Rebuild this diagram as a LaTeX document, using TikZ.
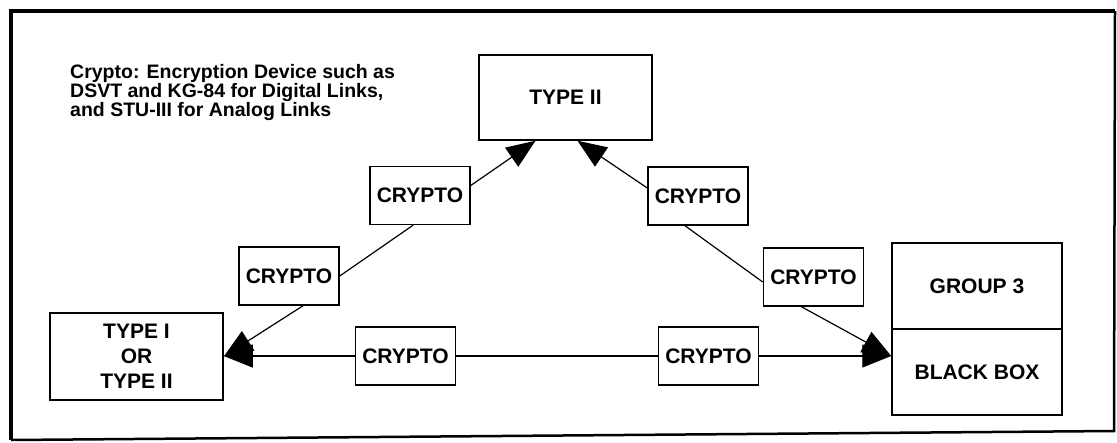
\documentclass[tikz,border=0pt]{standalone}
\usepackage{fontspec}
\setmainfont{Liberation Sans}
\usetikzlibrary{arrows.meta,calc}
\begin{document}
\begin{tikzpicture}[x=1pt,y=-1pt,
  box/.style={draw,line width=1.5pt,inner sep=0pt,align=center,
    font=\fontsize{21}{25}\selectfont\bfseries},
  cbox/.style={box,minimum width=100pt,minimum height=58pt},
  link/.style={line width=1.2pt},
  arr/.style={link,-{Triangle[length=29pt,width=23pt]}},
  note/.style={inner sep=0pt,anchor=north west,align=left,
    font=\fontsize{19.5}{17.5}\selectfont\bfseries}]
\useasboundingbox (0,0) rectangle (1117,442);

% outer frame
\draw[line width=4pt] (11,440) -- (11,11) -- (1115,11);
\draw[line width=2.5pt] (1115,11) -- (1114,431) -- (11,440);

% legend
\node[note] (legend) at (70,64) {Crypto: Encryption Device such as\\
DSVT and KG-84 for Digital Links,\\
and STU-III for Analog Links};

% end systems
\node[box,minimum width=173pt,minimum height=85pt] (t2) at (565.5,97.5) {TYPE II};
\node[box,minimum width=173pt,minimum height=87pt] (t1) at (136.5,356.5) {TYPE I\\OR\\TYPE II};
\node[box,minimum width=170pt,minimum height=86pt] (grp) at (977,286) {GROUP 3};
\node[box,minimum width=170pt,minimum height=86pt] (bbox) at (977,372) {BLACK BOX};

% crypto devices
\node[cbox] (c1) at (420,195.5) {CRYPTO};
\node[cbox] (c2) at (289,276) {CRYPTO};
\node[cbox] (c3) at (698,196) {CRYPTO};
\node[cbox] (c4) at (813.5,277) {CRYPTO};
\node[cbox] (c5) at (405.5,356) {CRYPTO};
\node[cbox] (c6) at (708.5,356) {CRYPTO};

% left link: TYPE I -- TYPE II
\draw[arr] ($(c1.east)+(0,-10)$) -- ($(t2.south)+(-30,0)$);
\draw[link] (c2.east) -- ($(c1.south)+(-7,0)$);
\draw[arr] ($(c2.south)+(14,0)$) -- (t1.east);

% right link: TYPE II -- GROUP 3
\draw[arr] ($(c3.west)+(0,-8)$) -- ($(t2.south)+(12,0)$);
\draw[link] ($(c3.south)+(-13,0)$) -- ($(c4.west)+(0,5)$);
\coordinate (bbin) at (c6.east -| bbox.west);
\draw[arr] ($(c4.south)+(-12,0)$) -- (bbin);

% bottom link: TYPE I -- GROUP 3
\draw[arr] (c5.west) -- (c5.west -| t1.east);
\draw[link] (c5.east) -- (c6.west);
\draw[arr] (c6.east) -- (bbin);
\end{tikzpicture}
\end{document}
